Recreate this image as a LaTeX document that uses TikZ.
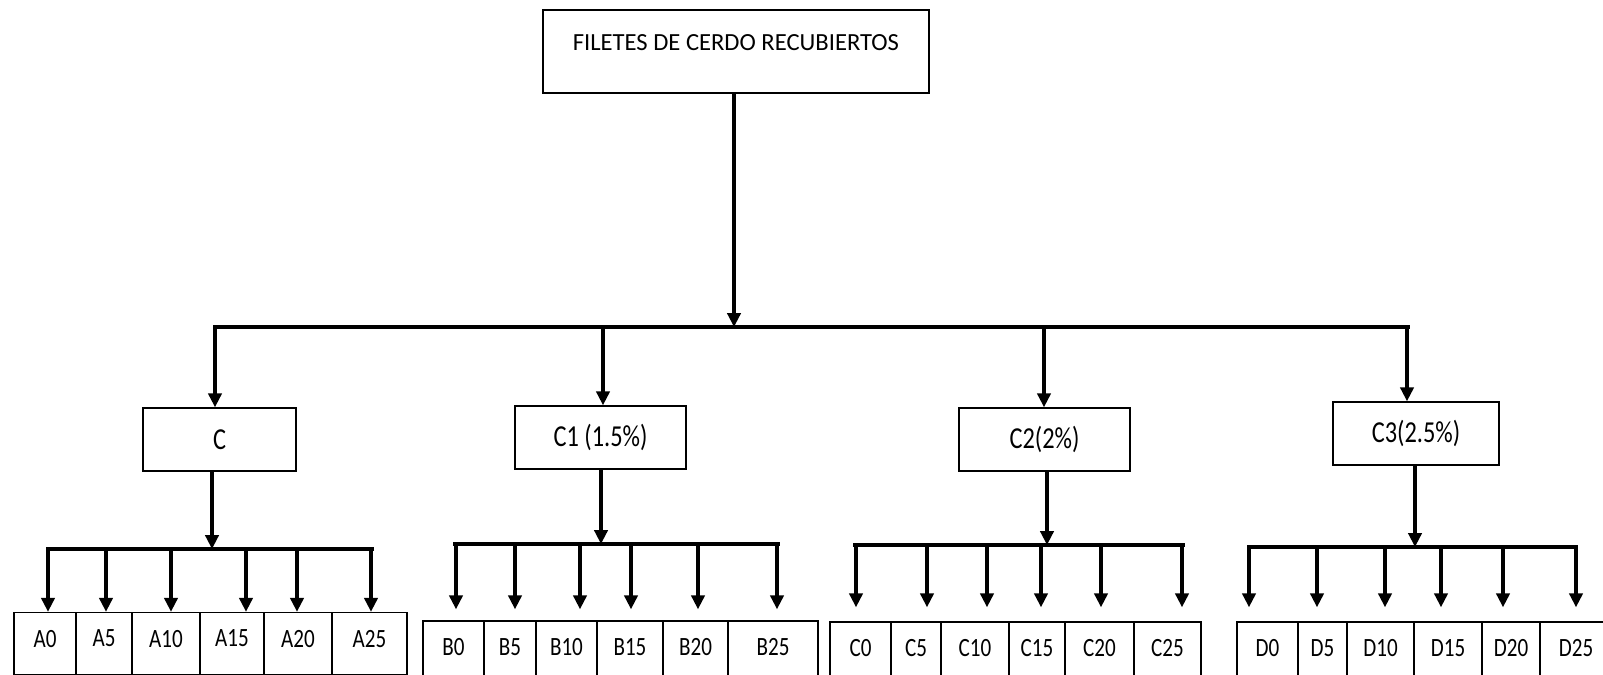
\documentclass[tikz,border=0pt]{standalone}
\usepackage{fontspec}
\setmainfont{Carlito}
\newfontfamily\narrowfont[FakeStretch=0.8]{Carlito}
\usetikzlibrary{arrows.meta}

\tikzset{
  box/.style={draw, line width=1.2pt, inner sep=0pt, minimum height=63*0.03cm,
    font=\narrowfont\fontsize{26}{30}\selectfont},
  leaf/.style={box, minimum height=62*0.03cm, text depth=0.3cm,
    font=\narrowfont\fontsize{22.5}{26}\selectfont},
  bar/.style={line width=2.8pt, line cap=rect},
  link/.style={line width=2.8pt, -{Triangle[width=0.4cm,length=0.42cm]}}
}

\begin{document}
\begin{tikzpicture}[x=0.03cm,y=-0.03cm]
  \useasboundingbox (0,0) rectangle (1603,675);

  \begin{scope}[every node/.style={box}]
    \node[minimum width=386*0.03cm, minimum height=83*0.03cm, text depth=0.55cm,
      font=\fontsize{21}{25}\selectfont] (root) at (736,51.5) {FILETES DE CERDO RECUBIERTOS};

    \node[minimum width=153*0.03cm] (gc)  at (219.5,439.5) {C};
    \node[minimum width=171*0.03cm] (gc1) at (600.5,437.5) {C1 (1.5\%)};
    \node[minimum width=171*0.03cm] (gc2) at (1044.5,439.5) {C2(2\%)};
    \node[minimum width=166*0.03cm] (gc3) at (1416,433.5) {C3(2.5\%)};
  \end{scope}

  \begin{scope}[every node/.style={leaf}]
    \node[minimum width=62*0.03cm] (a0)  at (45,643.5)  {A0};
    \node[minimum width=56*0.03cm] (a5)  at (104,643.5) {A5};
    \node[minimum width=68*0.03cm] (a10) at (166,643.5) {A10};
    \node[minimum width=64*0.03cm] (a15) at (232,643.5) {A15};
    \node[minimum width=68*0.03cm] (a20) at (298,643.5) {A20};
    \node[minimum width=75*0.03cm] (a25) at (369.5,643.5) {A25};

    \node[minimum width=61*0.03cm] (b0)  at (453.5,652) {B0};
    \node[minimum width=52*0.03cm] (b5)  at (510,652)   {B5};
    \node[minimum width=61*0.03cm] (b10) at (566.5,652) {B10};
    \node[minimum width=66*0.03cm] (b15) at (630,652)   {B15};
    \node[minimum width=65*0.03cm] (b20) at (695.5,652) {B20};
    \node[minimum width=90*0.03cm] (b25) at (773,652)   {B25};

    \node[minimum width=61*0.03cm] (c0)  at (860.5,653)  {C0};
    \node[minimum width=50*0.03cm] (c5)  at (916,653)    {C5};
    \node[minimum width=68*0.03cm] (c10) at (975,653)    {C10};
    \node[minimum width=56*0.03cm] (c15) at (1037,653)   {C15};
    \node[minimum width=69*0.03cm] (c20) at (1099.5,653) {C20};
    \node[minimum width=67*0.03cm] (c25) at (1167.5,653) {C25};

    \node[minimum width=61*0.03cm] (d0)  at (1267.5,653) {D0};
    \node[minimum width=49*0.03cm] (d5)  at (1322.5,653) {D5};
    \node[minimum width=67*0.03cm] (d10) at (1380.5,653) {D10};
    \node[minimum width=68*0.03cm] (d15) at (1448,653)   {D15};
    \node[minimum width=58*0.03cm] (d20) at (1511,653)   {D20};
    \node[minimum width=72*0.03cm] (d25) at (1576,653)   {D25};
  \end{scope}

  % main split
  \coordinate (hub) at (734,327);
  \coordinate (topL) at (215,327);
  \coordinate (topR) at (1408,327);
  \draw[link] (hub |- root.south) -- (hub);
  \draw[bar] (topL) -- (topR);
  \foreach \x/\n in {215/gc, 603/gc1, 1044/gc2, 1407/gc3} {
    \coordinate (k\n) at (\x,327);
    \draw[link] (k\n) -- (k\n |- \n.north);
  }

  % second splits
  \coordinate (ha) at (212,549);  \coordinate (aL) at (48,549);   \coordinate (aR) at (372,549);
  \coordinate (hb) at (601,544);  \coordinate (bL) at (455,544);  \coordinate (bR) at (778,544);
  \coordinate (hc) at (1047,545); \coordinate (cL) at (855,545);  \coordinate (cR) at (1183,545);
  \coordinate (hd) at (1415,547); \coordinate (dL) at (1249,547); \coordinate (dR) at (1576,547);

  \draw[link] (ha |- gc.south)  -- (ha);
  \draw[link] (hb |- gc1.south) -- (hb);
  \draw[link] (hc |- gc2.south) -- (hc);
  \draw[link] (hd |- gc3.south) -- (hd);

  \draw[bar] (aL) -- (aR);
  \draw[bar] (bL) -- (bR);
  \draw[bar] (cL) -- (cR);
  \draw[bar] (dL) -- (dR);

  \foreach \x/\n in {48/a0, 106/a5, 171/a10, 246/a15, 297/a20, 371/a25} {
    \coordinate (t\n) at (\x,549);
    \draw[link] (t\n) -- (t\n |- \n.north);
  }
  \foreach \x/\n in {456/b0, 515/b5, 580/b10, 631/b15, 698/b20, 777/b25} {
    \coordinate (t\n) at (\x,544);
    \draw[link, shorten >=0.33cm] (t\n) -- (t\n |- \n.north);
  }
  \foreach \x/\n in {856/c0, 927/c5, 987/c10, 1041/c15, 1101/c20, 1182/c25} {
    \coordinate (t\n) at (\x,545);
    \draw[link, shorten >=0.42cm] (t\n) -- (t\n |- \n.north);
  }
  \foreach \x/\n in {1249/d0, 1317/d5, 1385/d10, 1441/d15, 1503/d20, 1576/d25} {
    \coordinate (t\n) at (\x,547);
    \draw[link, shorten >=0.42cm] (t\n) -- (t\n |- \n.north);
  }

\end{tikzpicture}
\end{document}
